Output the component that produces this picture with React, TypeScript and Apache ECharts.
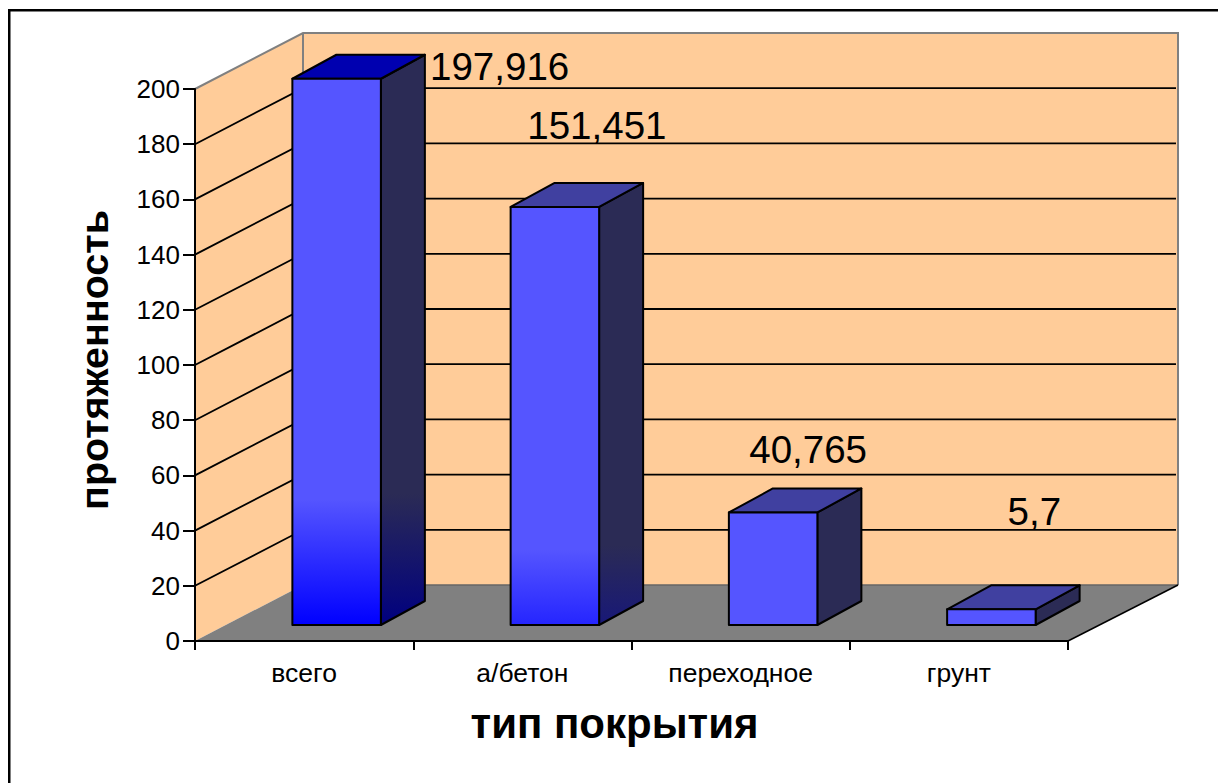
import React, { useEffect, useRef } from "react";
import * as echarts from "echarts";

const categories = ["всего", "а/бетон", "переходное", "грунт"];
const lengths = [197.916, 151.451, 40.765, 5.7];
const yTicks = [20, 40, 60, 80, 100, 120, 140, 160, 180];
const yMax = 200;

// Pseudo-3D projection offsets (pixels)
const WALL_DX = 108;
const WALL_DY = 56;
const BAR_DX = 32.5;
const BAR_DY = 16;
const SIDE_DX = 44;
const SIDE_DY = 24;
const BAR_W = 88.5;

// Data label displacement from the bar's front-top centre
const labelShift = [[163, -12], [42, -81], [35, -63], [43, -98]];
const topColors = ["#0000B0", "#4040A0", "#4040A0", "#4040A0"];
const gradEnd = ["#0000FF", "#2525FF", "#5555FF", "#5555FF"];
const sideEnd = ["#000080", "#181878", "#2B2B55", "#2B2B55"];
const gradPos = [0.77, 0.82, 0.99, 0.99];

const FONT = '"Liberation Sans", Arial, sans-serif';

function renderWalls(_: any, api: any) {
  const band = api.size([1, 0])[0];
  const p0 = api.coord([0, 0]);
  const pT = api.coord([0, yMax]);
  const pE = api.coord([categories.length - 1, 0]);
  const xL = p0[0] - band / 2;
  const xR = pE[0] + band / 2;
  const yB = p0[1];
  const yT = pT[1];
  const grey = { stroke: "#808080", lineWidth: 2 };
  return {
    type: "group",
    children: [
      { type: "polygon", shape: { points: [[xL, yT], [xL + WALL_DX, yT - WALL_DY], [xL + WALL_DX, yB - WALL_DY], [xL, yB]] }, style: { fill: "#FFCC99", stroke: "none" } },
      { type: "polygon", shape: { points: [[xL + WALL_DX, yT - WALL_DY], [xR + WALL_DX + 2, yT - WALL_DY], [xR + WALL_DX + 2, yB - WALL_DY], [xL + WALL_DX, yB - WALL_DY]] }, style: { fill: "#FFCC99", stroke: "none" } },
      { type: "polygon", shape: { points: [[xL, yB], [xL + WALL_DX, yB - WALL_DY], [xR + WALL_DX + 2, yB - WALL_DY], [xR, yB]] }, style: { fill: "#808080", stroke: "none" } },
      { type: "polyline", shape: { points: [[xL, yT], [xL + WALL_DX, yT - WALL_DY], [xR + WALL_DX + 2, yT - WALL_DY], [xR + WALL_DX + 2, yB - WALL_DY]] }, style: { fill: "none", ...grey } },
      { type: "line", shape: { x1: xL + WALL_DX, y1: yT - WALL_DY, x2: xL + WALL_DX, y2: yB - WALL_DY }, style: grey },
      { type: "line", shape: { x1: xL + WALL_DX, y1: yB - WALL_DY, x2: xR + WALL_DX + 2, y2: yB - WALL_DY }, style: { stroke: "#666666", lineWidth: 1.5 } },
      { type: "line", shape: { x1: xR, y1: yB, x2: xR + WALL_DX + 2, y2: yB - WALL_DY }, style: { stroke: "#000000", lineWidth: 1.5 } },
    ],
  };
}

function renderGrid(_: any, api: any) {
  const band = api.size([1, 0])[0];
  const p = api.coord([0, api.value(1)]);
  const pE = api.coord([categories.length - 1, 0]);
  const xL = p[0] - band / 2;
  const xR = pE[0] + band / 2;
  return {
    type: "polyline",
    shape: { points: [[xL, p[1]], [xL + WALL_DX, p[1] - WALL_DY], [xR + WALL_DX, p[1] - WALL_DY]] },
    style: { fill: "none", stroke: "#000000", lineWidth: 1.8 },
  };
}

function renderBar(params: any, api: any) {
  const i = params.dataIndex;
  const v = api.value(1);
  const top = api.coord([i, v]);
  const base = api.coord([i, 0]);
  const x0 = top[0] + BAR_DX - BAR_W / 2;
  const x1 = x0 + BAR_W;
  const yT = top[1] - BAR_DY;
  const yB = base[1] - BAR_DY;
  const border = { stroke: "#000000", lineWidth: 2, lineJoin: "round" };
  const front = new echarts.graphic.LinearGradient(0, 0, 0, 1, [
    { offset: 0, color: "#5555FF" },
    { offset: gradPos[i], color: "#5555FF" },
    { offset: 1, color: gradEnd[i] },
  ]);
  const side = new echarts.graphic.LinearGradient(0, 0, 0, 1, [
    { offset: 0, color: "#2B2B55" },
    { offset: gradPos[i], color: "#2B2B55" },
    { offset: 1, color: sideEnd[i] },
  ]);
  return {
    type: "group",
    children: [
      { type: "polygon", shape: { points: [[x1, yT], [x1 + SIDE_DX, yT - SIDE_DY], [x1 + SIDE_DX, yB - SIDE_DY], [x1, yB]] }, style: { fill: side, ...border } },
      { type: "polygon", shape: { points: [[x0, yT], [x0 + SIDE_DX, yT - SIDE_DY], [x1 + SIDE_DX, yT - SIDE_DY], [x1, yT]] }, style: { fill: topColors[i], ...border } },
      { type: "rect", shape: { x: x0, y: yT, width: BAR_W, height: yB - yT }, style: { fill: front, ...border } },
      {
        type: "text",
        style: {
          text: String(v).replace(".", ","),
          x: x0 + BAR_W / 2 + labelShift[i][0],
          y: yT + labelShift[i][1],
          align: "center",
          verticalAlign: "middle",
          fontFamily: FONT,
          fontSize: 38.5,
          fill: "#000000",
        },
      },
    ],
  };
}

export default function App() {
  const ref = useRef<HTMLDivElement>(null);
  useEffect(() => {
    document.body.style.margin = "0";
    const chart = echarts.init(ref.current!, null, { renderer: "svg" });
    chart.setOption({
      animation: false,
      backgroundColor: "#FFFFFF",
      graphic: [
        { type: "rect", shape: { x: 8, y: 9, width: 1210, height: 2.5 }, style: { fill: "#000000" }, silent: true },
        { type: "rect", shape: { x: 8, y: 9, width: 2.5, height: 774 }, style: { fill: "#000000" }, silent: true },
      ],
      grid: { left: 195, top: 89, width: 873, height: 552, containLabel: false },
      xAxis: {
        type: "category",
        data: categories,
        z: 10,
        name: "тип покрытия",
        nameLocation: "middle",
        nameGap: 61,
        nameTextStyle: { fontFamily: FONT, fontSize: 42, fontWeight: "bold", color: "#000000", padding: [0, 34, 0, 0] },
        axisLine: { lineStyle: { color: "#000000", width: 2 } },
        axisTick: { show: true, length: 9, lineStyle: { color: "#000000", width: 2 } },
        axisLabel: { fontFamily: FONT, fontSize: 26.5, color: "#000000", margin: 18 },
        splitLine: { show: false },
      },
      yAxis: {
        type: "value",
        min: 0,
        max: yMax,
        interval: 20,
        z: 10,
        name: "протяженность",
        nameLocation: "middle",
        nameGap: 81,
        nameTextStyle: { fontFamily: FONT, fontSize: 39.5, fontWeight: "bold", color: "#000000", padding: [0, 0, 0, 10] },
        axisLine: { show: true, lineStyle: { color: "#000000", width: 2 } },
        axisTick: { show: true, length: 12, lineStyle: { color: "#000000", width: 2 } },
        axisLabel: { fontFamily: FONT, fontSize: 26, color: "#000000", margin: 15 },
        splitLine: { show: false },
      },
      series: [
        { type: "custom", name: "walls", z: 1, silent: true, renderItem: renderWalls, data: [[0, 0]] },
        { type: "custom", name: "grid", z: 2, silent: true, renderItem: renderGrid, data: yTicks.map((t) => [0, t]) },
        { type: "custom", name: "протяженность", z: 3, silent: true, renderItem: renderBar, data: categories.map((_, i) => [i, lengths[i]]) },
      ],
    });
    return () => chart.dispose();
  }, []);
  return <div ref={ref} style={{ position: "fixed", left: 0, top: 0, width: 1218, height: 783 }} />;
}
